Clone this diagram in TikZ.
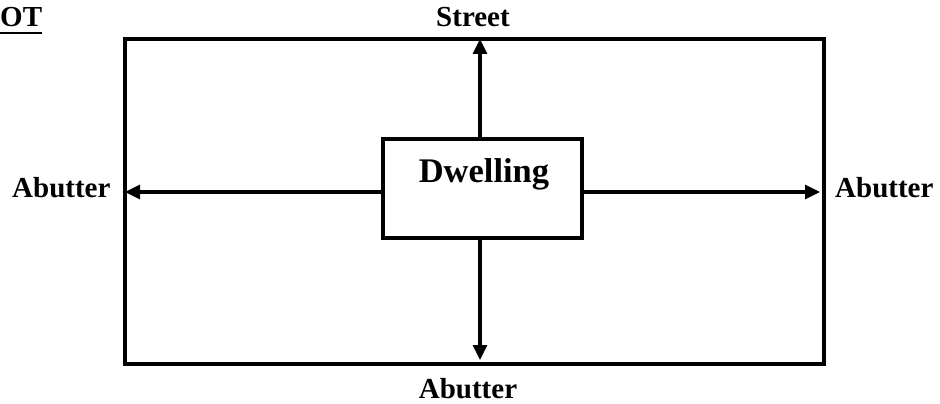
\documentclass[tikz,border=0pt]{standalone}
\usepackage{fontspec}
\setmainfont{Liberation Serif}
\usetikzlibrary{arrows.meta}
\begin{document}
\begin{tikzpicture}[x=1pt,y=-1pt,
  lbl/.style={font=\fontsize{29}{32}\selectfont\bfseries, inner sep=0pt},
  conn/.style={line width=3.2pt, -{Triangle[length=15pt,width=14pt]}},
  boxline/.style={line width=3.6pt}]
\useasboundingbox (0,0) rectangle (940,404);
\node[boxline, draw, minimum width=699pt, minimum height=325pt, anchor=north west, inner sep=0pt] (lot) at (123,37) {};
\node[boxline, draw, minimum width=199pt, minimum height=99pt, anchor=north west, inner sep=0pt] (dw) at (381,137) {};
\node[font=\fontsize{34.5}{38}\selectfont\bfseries, inner sep=0pt, anchor=base] (dwt) at (484,182) {Dwelling};
\coordinate (t) at (480,39);
\coordinate (b) at (480,360);
\coordinate (l) at (125,192);
\coordinate (r) at (820,192);
\draw[conn] (dw.north -| t) -- (t);
\draw[conn] (dw.south -| b) -- (b);
\draw[conn] (dw.west |- l) -- (l);
\draw[conn] (dw.east |- r) -- (r);
\node[lbl, anchor=base] (street) at (473,27) {Street};
\node[lbl, anchor=base west] (abl) at (12,197) {Abutter};
\node[lbl, anchor=base west] (abr) at (835,197) {Abutter};
\node[lbl, anchor=base] (abb) at (468,398) {Abutter};
\node[lbl, anchor=base west] (ot) at (0,27) {OT};
\draw[line width=2pt] ([yshift=-6pt]ot.base west) -- ([yshift=-6pt]ot.base east);
\end{tikzpicture}
\end{document}
